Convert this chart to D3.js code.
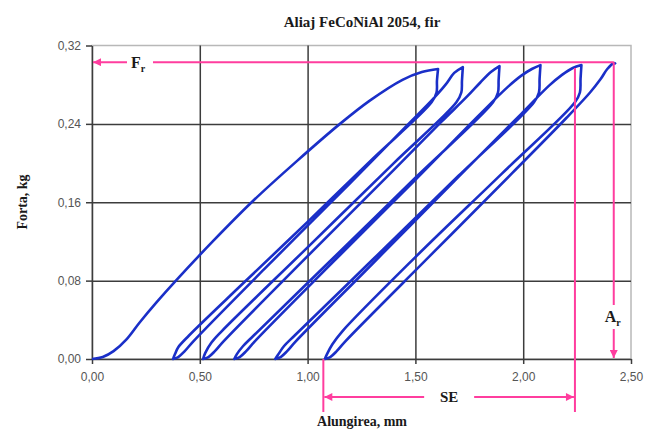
<!DOCTYPE html>
<html>
<head>
<meta charset="utf-8">
<script src="https://cdn.jsdelivr.net/npm/d3@7"></script>
<style>
  body { margin: 0; background: #fff; }
  svg text { font-family: "Liberation Sans", Arial, sans-serif; }
  .serif { font-family: "Liberation Serif", "Times New Roman", serif; font-weight: bold; fill: #1a1a1a; }
</style>
</head>
<body>
<svg id="chart" width="647" height="432"></svg>
<script>
// tick values
const xTicks = [0, 0.5, 1, 1.5, 2, 2.5];
const yTicks = [0, 0.08, 0.16, 0.24, 0.32];

// [elongation mm, force kg]
const loading = [[0, 0], [0.05, 0.002], [0.10, 0.008], [0.16, 0.02], [0.22, 0.037], [0.30, 0.058], [0.385, 0.079],
  [0.56, 0.12], [0.75, 0.162], [0.95, 0.202], [1.15, 0.24], [1.29, 0.264], [1.44, 0.285], [1.53, 0.293], [1.605, 0.296]];
const unload1 = [[1.605, 0.296], [1.600, 0.284], [1.598, 0.272], [1.575, 0.262], [1.30, 0.204], [1.00, 0.140],
  [0.70, 0.077], [0.45, 0.024], [0.40, 0.012], [0.385, 0.005], [0.376, 0]];
const reload1 = [[0.376, 0], [0.40, 0.002], [0.43, 0.008], [0.47, 0.018], [0.80, 0.092], [1.20, 0.180],
  [1.45, 0.236], [1.58, 0.265], [1.64, 0.280], [1.68, 0.292], [1.72, 0.298]];
const unload2 = [[1.72, 0.298], [1.716, 0.284], [1.713, 0.272], [1.69, 0.262], [1.40, 0.200], [1.00, 0.114],
  [0.60, 0.028], [0.555, 0.017], [0.525, 0.006], [0.515, 0]];
const reload2 = [[0.515, 0], [0.54, 0.002], [0.57, 0.008], [0.61, 0.018], [1.00, 0.105], [1.40, 0.193],
  [1.62, 0.242], [1.74, 0.268], [1.80, 0.282], [1.85, 0.293], [1.89, 0.299]];
const unload3 = [[1.89, 0.299], [1.886, 0.285], [1.883, 0.272], [1.86, 0.262], [1.50, 0.185], [1.10, 0.099],
  [0.75, 0.024], [0.70, 0.013], [0.672, 0.005], [0.66, 0]];
const reload3 = [[0.66, 0], [0.685, 0.002], [0.715, 0.008], [0.755, 0.018], [1.10, 0.095], [1.50, 0.183],
  [1.80, 0.250], [1.93, 0.278], [1.99, 0.289], [2.04, 0.296], [2.08, 0.300]];
const unload4 = [[2.08, 0.300], [2.076, 0.286], [2.073, 0.272], [2.05, 0.262], [1.70, 0.187], [1.30, 0.101],
  [0.94, 0.024], [0.89, 0.013], [0.862, 0.004], [0.85, 0]];
const reload4 = [[0.85, 0], [0.875, 0.002], [0.905, 0.008], [0.945, 0.018], [1.30, 0.097], [1.70, 0.186],
  [1.99, 0.250], [2.12, 0.279], [2.18, 0.290], [2.23, 0.297], [2.27, 0.300]];
const unload5 = [[2.27, 0.300], [2.266, 0.286], [2.263, 0.272], [2.24, 0.262], [1.90, 0.189], [1.50, 0.104],
  [1.16, 0.028], [1.115, 0.015], [1.09, 0.005], [1.08, 0]];
const reload5 = [[1.08, 0], [1.105, 0.002], [1.135, 0.008], [1.175, 0.018], [1.58, 0.108], [1.95, 0.190],
  [2.20, 0.246], [2.31, 0.272], [2.36, 0.286], [2.39, 0.296], [2.42, 0.302], [2.43, 0.301]];

// annotation values
const frForce = 0.303;   // F_r
const arElong = 2.42;    // A_r
const seFrom = 1.073, seTo = 2.24, seTop = 0.297;

const svg = d3.select("#chart");
const pink = "#ff3d9e";

const x = d3.scaleLinear().domain([0, 2.5]).range([92, 631]);
const y = d3.scaleLinear().domain([0, 0.32]).range([359, 45.5]);
const fmt = d => d3.format(".2f")(d).replace(".", ",");
const plotH = y(0) - y(0.32);
const plotW = x(2.5) - x(0);

// frame
svg.append("rect")
  .attr("x", x(0)).attr("y", y(0.32))
  .attr("width", plotW).attr("height", plotH)
  .attr("fill", "none").attr("stroke", "#b8b8b8").attr("stroke-width", 1.5);

// grid
svg.append("g")
  .attr("transform", "translate(0," + y(0) + ")")
  .call(d3.axisBottom(x).tickValues(xTicks.slice(1, -1)).tickSize(-plotH).tickFormat(""))
  .call(g => g.select(".domain").remove())
  .selectAll("line").attr("stroke", "#3c3c3c").attr("stroke-width", 1.5);

svg.append("g")
  .attr("transform", "translate(" + x(0) + ",0)")
  .call(d3.axisLeft(y).tickValues(yTicks.slice(1, -1)).tickSize(-plotW).tickFormat(""))
  .call(g => g.select(".domain").remove())
  .selectAll("line").attr("stroke", "#3c3c3c").attr("stroke-width", 1.5);

// axes
const xAxis = svg.append("g")
  .attr("transform", "translate(0," + y(0) + ")")
  .call(d3.axisBottom(x).tickValues(xTicks).tickSize(5).tickSizeOuter(0).tickPadding(8).tickFormat(fmt));
const yAxis = svg.append("g")
  .attr("transform", "translate(" + x(0) + ",0)")
  .call(d3.axisLeft(y).tickValues(yTicks).tickSize(6).tickSizeOuter(0).tickPadding(5).tickFormat(fmt));

[xAxis, yAxis].forEach(a => {
  a.select(".domain").attr("stroke", "#3c3c3c").attr("stroke-width", 1.5);
  a.selectAll(".tick line").attr("stroke", "#3c3c3c").attr("stroke-width", 1.5);
  a.selectAll("text").attr("font-size", 12).attr("fill", "#555")
    .attr("font-family", "'Liberation Sans', Arial, sans-serif");
});

// markers
svg.append("defs").append("marker")
  .attr("id", "arr")
  .attr("viewBox", "0 0 10 10")
  .attr("refX", 10).attr("refY", 5)
  .attr("markerWidth", 10).attr("markerHeight", 8)
  .attr("markerUnits", "userSpaceOnUse")
  .attr("orient", "auto")
  .append("path").attr("d", "M0,0L10,5L0,10z").attr("fill", pink);

// curve
const curve = [].concat(loading, unload1, reload1, unload2, reload2, unload3, reload3,
  unload4, reload4, unload5, reload5);
const line = d3.line()
  .x(d => x(d[0])).y(d => y(d[1]))
  .curve(d3.curveCatmullRom.alpha(0.5));

svg.append("path")
  .datum(curve)
  .attr("d", line)
  .attr("fill", "none")
  .attr("stroke", "#1a2fc8")
  .attr("stroke-width", 2.6)
  .attr("stroke-linejoin", "round");

// annotations
function seg(x1, y1, x2, y2, arrow) {
  const l = svg.append("line")
    .attr("x1", x1).attr("y1", y1).attr("x2", x2).attr("y2", y2)
    .attr("stroke", pink).attr("stroke-width", 2);
  if (arrow) l.attr("marker-end", "url(#arr)");
}

const yf = y(frForce);
seg(x(arElong), yf, 153, yf, false);
seg(127, yf, x(0) + 1, yf, true);
seg(x(arElong), yf, x(arElong), 305, false);
seg(x(arElong), 329, x(arElong), y(0) - 1, true);

seg(x(seFrom), y(0), x(seFrom), 412, false);
seg(x(seTo), y(seTop), x(seTo), 412, false);
const seMid = (x(seFrom) + x(seTo)) / 2;
seg(seMid - 25, 397, x(seFrom) + 1, 397, true);
seg(seMid + 25, 397, x(seTo) - 1, 397, true);

const fr = svg.append("text").attr("class", "serif").attr("x", 131).attr("y", yf + 6).attr("font-size", 16);
fr.append("tspan").text("F");
fr.append("tspan").attr("font-size", 10).attr("dy", 4).text("r");

const ar = svg.append("text").attr("class", "serif").attr("x", x(arElong) - 9).attr("y", 322).attr("font-size", 16);
ar.append("tspan").text("A");
ar.append("tspan").attr("font-size", 10).attr("dy", 4).text("r");

svg.append("text").attr("class", "serif").attr("x", seMid).attr("y", 402)
  .attr("text-anchor", "middle").attr("font-size", 15).text("SE");

// titles
svg.append("text").attr("class", "serif").attr("x", 362).attr("y", 27)
  .attr("text-anchor", "middle").attr("font-size", 15).text("Aliaj FeCoNiAl 2054, fir");
svg.append("text").attr("class", "serif").attr("x", 362).attr("y", 426)
  .attr("text-anchor", "middle").attr("font-size", 14).text("Alungirea, mm");
svg.append("text").attr("class", "serif")
  .attr("transform", "translate(27,202) rotate(-90)")
  .attr("text-anchor", "middle").attr("font-size", 14).text("Forta, kg");
</script>
</body>
</html>
